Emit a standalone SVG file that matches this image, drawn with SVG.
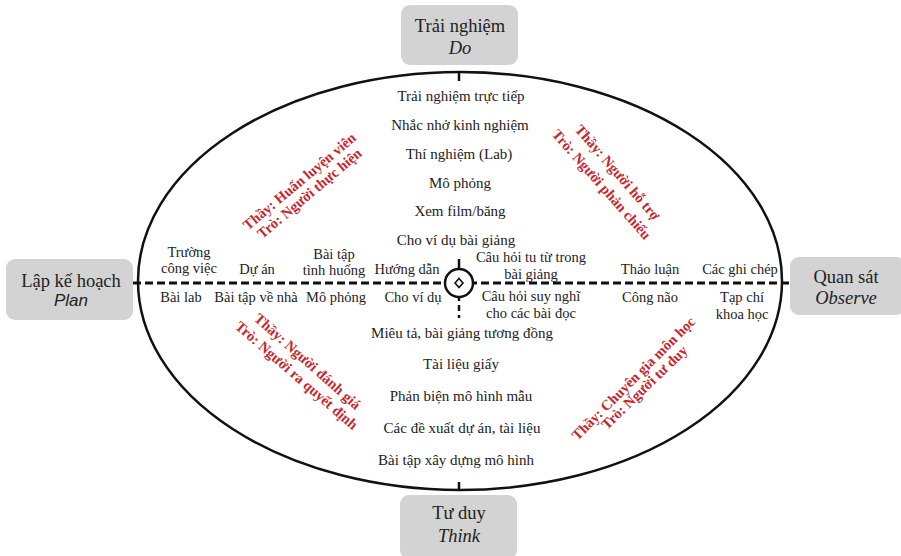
<svg xmlns="http://www.w3.org/2000/svg" width="901" height="556" viewBox="0 0 901 556">
  <defs>
    <style>
      .box { fill: #d3d3d3; }
      text { font-family: 'Liberation Serif', 'Times New Roman', Tinos, 'DejaVu Serif', serif; }
      .bt { font-size: 18.5px; fill: #222; text-anchor: middle; }
      .bi { font-size: 18.5px; font-style: italic; fill: #222; text-anchor: middle; }
      .t { font-size: 15px; fill: #222; text-anchor: middle; }
      .h { font-size: 14.5px; fill: #222; text-anchor: middle; }
      .r { font-size: 14.5px; font-weight: bold; fill: #c8262c; text-anchor: middle; }
      .ln { stroke: #111; fill: none; }
    </style>
  </defs>
  <rect width="901" height="556" fill="#ffffff"/>

  <!-- main ring and axes -->
  <g id="connectors">
    <ellipse class="ln" cx="460" cy="281" rx="322" ry="209" stroke-width="2.5"/>
    <line class="ln" x1="133" y1="283" x2="791" y2="283" stroke-width="3" stroke-dasharray="8 4"/>
    <line class="ln" x1="459" y1="73" x2="459" y2="81" stroke-width="2.5"/>
    <line class="ln" x1="459" y1="482" x2="459" y2="491" stroke-width="2.5"/>
    <line class="ln" x1="459" y1="259" x2="459" y2="272" stroke-width="2.5"/>
    <line class="ln" x1="459" y1="295" x2="459" y2="318" stroke-width="2.5" stroke-dasharray="6 4"/>
  </g>

  <!-- centre hub -->
  <g id="hub">
    <circle cx="459" cy="283" r="14" fill="#fff" stroke="#111" stroke-width="2.5"/>
    <polygon points="459,278.5 463,283 459,287.5 455,283" fill="#fff" stroke="#111" stroke-width="1.6"/>
  </g>

  <!-- stage boxes -->
  <g id="stage-do">
    <rect class="box" x="401" y="5" width="117" height="60" rx="9"/>
    <text class="bt" x="460" y="32">Trải nghiệm</text>
    <text class="bi" x="460" y="54">Do</text>
  </g>
  <g id="stage-plan">
    <rect class="box" x="6" y="259" width="127" height="61" rx="9"/>
    <text class="bt" x="71" y="287">Lập kế hoạch</text>
    <text class="bi" x="71" y="306" style="font-family:'Liberation Sans', Arimo, sans-serif;font-size:17px">Plan</text>
  </g>
  <g id="stage-observe">
    <rect class="box" x="790" y="257" width="115" height="58" rx="9"/>
    <text class="bt" x="846" y="283">Quan sát</text>
    <text class="bi" x="846" y="304">Observe</text>
  </g>
  <g id="stage-think">
    <rect class="box" x="400" y="495" width="117" height="64" rx="9"/>
    <text class="bt" x="459" y="519">Tư duy</text>
    <text class="bi" x="459" y="542">Think</text>
  </g>

  <!-- activities, vertical axis -->
  <g id="activities-top">
    <text class="t" x="461" y="101">Trải nghiệm trực tiếp</text>
    <text class="t" x="460" y="130">Nhắc nhở kinh nghiệm</text>
    <text class="t" x="459" y="159">Thí nghiệm (Lab)</text>
    <text class="t" x="460" y="188">Mô phỏng</text>
    <text class="t" x="460" y="216">Xem film/băng</text>
    <text class="t" x="456" y="245">Cho ví dụ bài giảng</text>
  </g>
  <g id="activities-bottom">
    <text class="t" x="462" y="338">Miêu tả, bài giảng tương đồng</text>
    <text class="t" x="461" y="369">Tài liệu giấy</text>
    <text class="t" x="461" y="401">Phản biện mô hình mẫu</text>
    <text class="t" x="462" y="433">Các đề xuất dự án, tài liệu</text>
    <text class="t" x="456" y="465">Bài tập xây dựng mô hình</text>
  </g>

  <!-- activities, horizontal axis -->
  <g id="activities-left">
    <text class="h" x="189" y="257">Trường</text>
    <text class="h" x="189" y="273">công việc</text>
    <text class="h" x="257" y="274">Dự án</text>
    <text class="h" x="334" y="259">Bài tập</text>
    <text class="h" x="334" y="275">tình huống</text>
    <text class="h" x="407" y="274">Hướng dẫn</text>
    <text class="h" x="181" y="302">Bài lab</text>
    <text class="h" x="256" y="302">Bài tập về nhà</text>
    <text class="h" x="336" y="302">Mô phỏng</text>
    <text class="h" x="413" y="302">Cho ví dụ</text>
  </g>
  <g id="activities-right">
    <text class="h" x="531" y="262">Câu hỏi tu từ trong</text>
    <text class="h" x="531" y="279">bài giảng</text>
    <text class="h" x="531" y="301">Câu hỏi suy nghĩ</text>
    <text class="h" x="531" y="318">cho các bài đọc</text>
    <text class="h" x="650" y="274">Thảo luận</text>
    <text class="h" x="740" y="274">Các ghi chép</text>
    <text class="h" x="650" y="302">Công não</text>
    <text class="h" x="742" y="302">Tạp chí</text>
    <text class="h" x="742" y="319">khoa học</text>
  </g>

  <!-- teacher / student roles per quadrant -->
  <g id="role-plan-do">
    <text class="r" transform="translate(300,182) rotate(-40)" y="4">Thầy: Huấn luyện viên</text>
    <text class="r" transform="translate(310,194) rotate(-40)" y="4">Trò: Người thực hiện</text>
  </g>
  <g id="role-do-observe">
    <text class="r" transform="translate(617,173) rotate(49)" y="4">Thầy: Người hỗ trợ</text>
    <text class="r" transform="translate(601,185) rotate(48.5)" y="4">Trò: Người phản chiếu</text>
  </g>
  <g id="role-plan-think">
    <text class="r" transform="translate(307,362) rotate(41.5)" y="4">Thầy: Người đánh giá</text>
    <text class="r" transform="translate(296,376) rotate(41)" y="4">Trò: Người ra quyết định</text>
  </g>
  <g id="role-think-observe">
    <text class="r" transform="translate(634,379) rotate(-45)" y="4">Thầy: Chuyên gia môn học</text>
    <text class="r" transform="translate(645,388) rotate(-44)" y="4">Trò: Người tư duy</text>
  </g>
</svg>
